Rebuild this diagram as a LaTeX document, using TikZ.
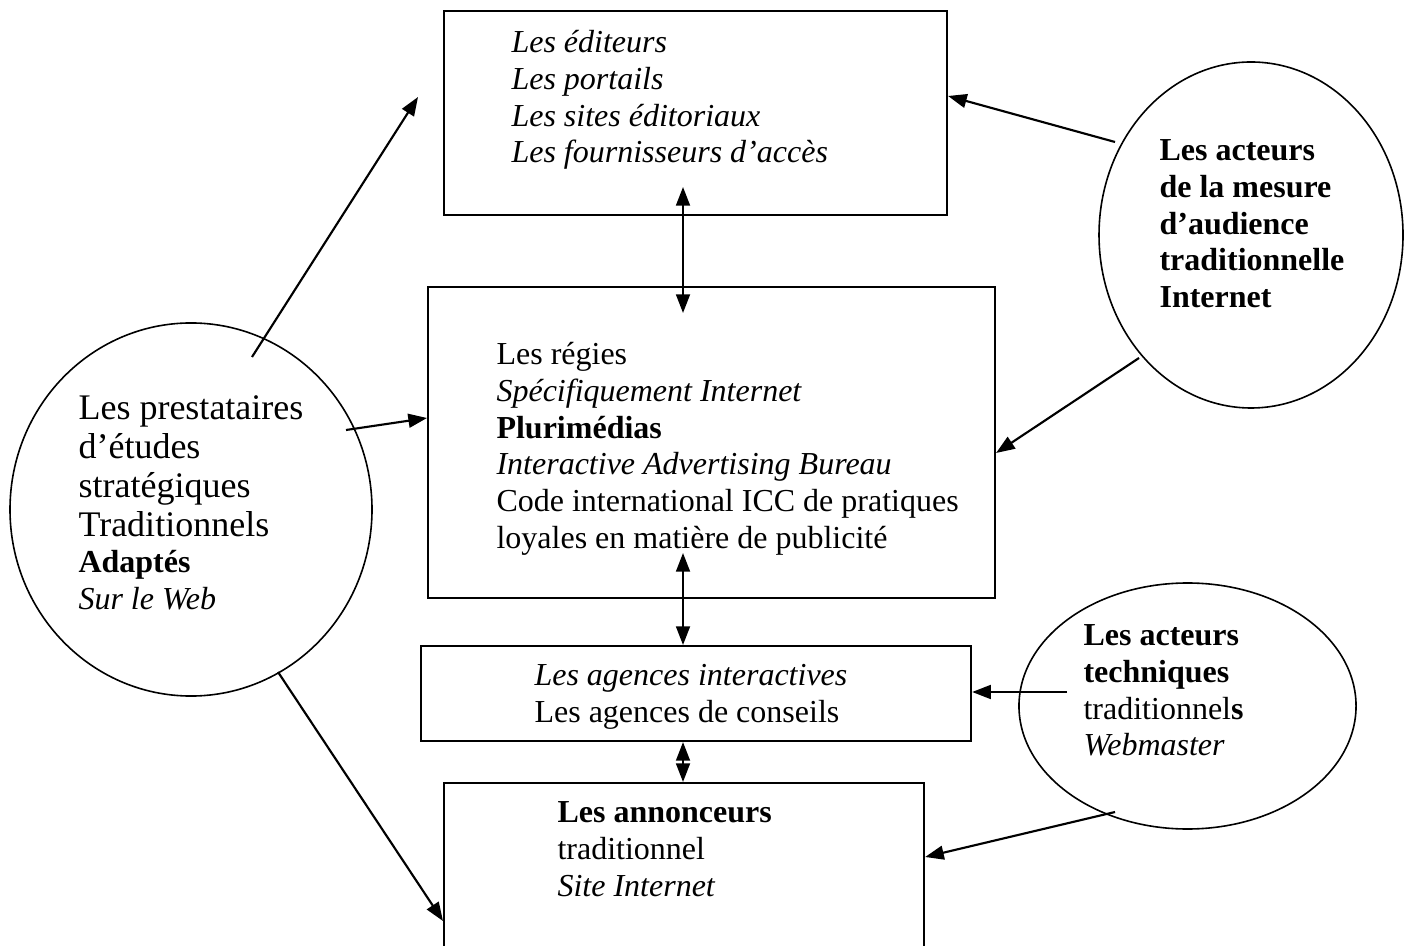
\documentclass[tikz,border=0pt]{standalone}
\usepackage{fontspec}
\setmainfont{Liberation Serif}
\usetikzlibrary{arrows.meta,shapes.geometric}
\newcommand\fst{\rule{0pt}{11pt}}
\tikzset{
  boxn/.style={draw, line width=0.8pt, inner sep=0pt, anchor=north west},
  circn/.style={draw, ellipse, line width=0.6pt, inner sep=0pt},
  txt/.style={anchor=north west, inner sep=0pt, align=left, font=\fontsize{12}{13.8}\selectfont},
  bigtxt/.style={txt, font=\fontsize{13.5}{14.6}\selectfont},
  arr/.style={line width=0.8pt, -{Triangle[length=7pt,width=5.2pt]}},
  darr/.style={line width=0.8pt, {Triangle[length=7pt,width=5.2pt]}-{Triangle[length=7pt,width=5.2pt]}}
}
\begin{document}
\begin{tikzpicture}[x=0.375pt, y=-0.375pt]
\path[use as bounding box] (0,0) rectangle (1410,946);
\clip (0,0) rectangle (1410,946);
\fill[white] (0,0) rectangle (1410,946);

% boxes
\node[boxn, minimum width=188.6pt, minimum height=76.5pt] (top) at (443,10) {};
\node[boxn, minimum width=212.6pt, minimum height=116.6pt] (mid) at (427,286) {};
\node[boxn, minimum width=206.25pt, minimum height=35.6pt] (ag) at (420,645) {};
\node[boxn, minimum width=180pt, minimum height=80pt] (ann) at (443,782) {};

% ellipses
\node[circn, minimum width=135.75pt, minimum height=139.9pt] (prest) at (191,509.5) {};
\node[circn, minimum width=114pt, minimum height=129.75pt] (mes) at (1251,235) {};
\node[circn, minimum width=126.4pt, minimum height=92.25pt] (tech) at (1187.5,706) {};

% texts
\node[txt] (topT) at (511,52-29.33) {\itshape\fst Les éditeurs\\ \itshape Les portails\\ \itshape Les sites éditoriaux\\ \itshape Les fournisseurs d’accès};
\node[txt] (midT) at (496,364-29.33) {\fst Les régies\\ \textit{Spécifiquement Internet}\\ \textbf{Plurimédias}\\ \textit{Interactive Advertising Bureau}\\ Code international ICC de pratiques\\ loyales en matière de publicité};
\node[txt] (agT) at (534,685-29.33) {\fst\textit{Les agences interactives}\\ Les agences de conseils};
\node[txt] (annT) at (557,822-29.33) {\fst\textbf{Les annonceurs}\\ traditionnel\\ \textit{Site Internet}};
\node[bigtxt] (prestT) at (78,419-29.33) {\fst Les prestataires\\ d’études\\ stratégiques\\ Traditionnels};
\node[txt] (prestT2) at (78,572-29.33) {\fst\textbf{Adaptés}\\ \textit{Sur le Web}};
\node[txt] (mesT) at (1159,160-29.33) {\bfseries\fst Les acteurs\\ \bfseries de la mesure\\ \bfseries d’audience\\ \bfseries traditionnelle\\ \bfseries Internet};
\node[txt] (techT) at (1083,645-29.33) {\fst\textbf{Les acteurs}\\ \textbf{techniques}\\ traditionnel\textbf{s}\\ \textit{Webmaster}};

% connector coordinates
\coordinate (pA) at (252,357);
\coordinate (pAend) at (418,97);
\coordinate (pB) at (346,430);
\coordinate (pC) at (278,672);
\coordinate (mA) at (1115,142);
\coordinate (mB) at (1139,358);
\coordinate (tA) at (1067,692);
\coordinate (tB) at (1115,812);
\coordinate (v1) at (683,187);
\coordinate (v2) at (683,313);
\coordinate (v3) at (683,553);

% connectors
\draw[arr] (pA) -- (pAend);
\draw[arr] (pB) -- (mid.west |- 0,418);
\draw[arr] (pC) -- (ann.west |- 0,921);
\draw[arr] (mA) -- (top.east |- 0,96);
\draw[arr] (mB) -- (mid.east |- 0,453);
\draw[arr] (tA) -- (ag.east |- 0,692);
\draw[arr] (tB) -- (ann.east |- 0,857);
\draw[darr] (v1) -- (v2);
\draw[darr] (v3) -- (ag.north -| 683,0);
\draw[darr] (ag.south -| 683,0) -- (ann.north -| 683,0);
\end{tikzpicture}
\end{document}
